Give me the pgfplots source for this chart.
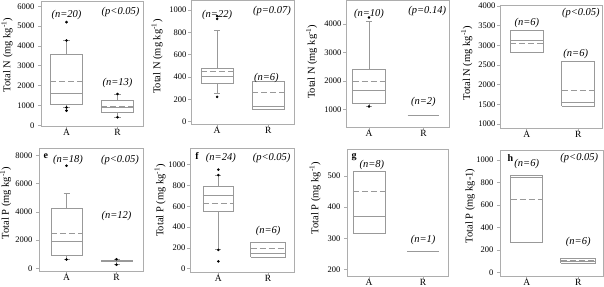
\documentclass[border=0pt]{standalone}
\usepackage{fontspec}
\setmainfont{Liberation Serif}
\usepackage{pgfplots}
\pgfplotsset{compat=1.18}
\definecolor{boxgray}{gray}{0.6}
\definecolor{framegray}{gray}{0.68}
\pgfplotsset{
  panel/.style={scale only axis, anchor=south west, clip=false,
    xtick={1,2}, xticklabels={A,R},
    axis line style={framegray, line width=0.7pt},
    tick style={framegray, line width=0.6pt},
    tick align=outside, tick pos=left, major tick length=3pt,
    yticklabel style={font=\fontsize{8.5}{10}\selectfont},
    xticklabel style={font=\fontsize{9.5}{11}\selectfont, yshift=3pt},
    /pgf/number format/assume math mode=true,
    /pgf/number format/1000 sep={},
    ylabel style={font=\fontsize{10.5}{12}\selectfont, anchor=center},
  },
  bx/.style={draw=boxgray, line width=0.7pt, solid, mark=none},
  mn/.style={draw=boxgray, line width=0.7pt, dash pattern=on 6pt off 3pt, mark=none},
  ol/.style={only marks, mark=*, mark size=1.1pt, mark options={draw=black, fill=black}},
}
\tikzset{
  ann/.style={font=\fontsize{10.5}{12}\selectfont\itshape},
  lett/.style={font=\fontsize{10}{12}\selectfont\bfseries},
}
% box: left x, right x, lower quartile, median, upper quartile
\newcommand{\bxx}[5]{%
  \addplot[bx] coordinates {(#1,#3) (#2,#3) (#2,#5) (#1,#5) (#1,#3)};
  \addplot[bx] coordinates {(#1,#4) (#2,#4)};}
% whisker: position, cap left, cap right, from, to
\newcommand{\wsk}[5]{%
  \addplot[bx] coordinates {(#1,#4) (#1,#5)};
  \addplot[bx] coordinates {(#2,#5) (#3,#5)};}
% mean: left x, right x, value
\newcommand{\mean}[3]{\addplot[mn] coordinates {(#1,#3) (#2,#3)};}
\begin{document}
\begin{tikzpicture}
\path[use as bounding box] (0pt,0pt) rectangle (604pt,-286pt);

% ---- Panel 1 ----
\begin{axis}[panel, at={(41pt,-126pt)}, width=102pt, height=125pt,
  xmin=0.5, xmax=2.5, ymin=-35, ymax=6265, ytick={0,1000,...,6000},
  yticklabel style={xshift=0pt},
  ylabel={Total N (mg kg\textsuperscript{-1})},
  ylabel style={at={(axis description cs:-0.333,0.568)}}]
\bxx{0.685}{1.315}{1060}{1613}{3580}
\wsk{1}{0.94}{1.06}{1060}{900}
\wsk{1}{0.94}{1.06}{3580}{4280}
\mean{0.685}{1.315}{2197}
\bxx{1.685}{2.315}{670}{922}{1275}
\wsk{2}{1.94}{2.06}{670}{403}
\wsk{2}{1.94}{2.06}{1275}{1577}
\mean{1.685}{2.315}{973}
\addplot[ol] coordinates {(1,900) (1,740) (1,4280) (1,5200) (2,403) (2,1577)};
\node[ann] at (axis cs:1.0,5560) {(n=20)};
\node[ann] at (axis cs:2.06,5725) {(p<0.05)};
\node[ann] at (axis cs:2.0,2117) {(n=13)};
\end{axis}

% ---- Panel 2 ----
\begin{axis}[panel, at={(191pt,-124pt)}, width=103pt, height=124pt,
  xmin=0.49, xmax=2.5, ymin=-21, ymax=1090, ytick={0,200,...,1000},
  yticklabel style={xshift=2pt},
  ylabel={Total N (mg kg\textsuperscript{-1})},
  ylabel style={at={(axis description cs:-0.330,0.543)}}]
\bxx{0.685}{1.315}{344}{409}{478}
\wsk{1}{0.94}{1.06}{344}{250}
\wsk{1}{0.94}{1.06}{478}{815}
\mean{0.685}{1.315}{448}
\bxx{1.685}{2.315}{114}{134}{364}
\mean{1.685}{2.315}{263}
\addplot[ol] coordinates {(1,222) (1,920) (1,945)};
\node[ann] at (axis cs:1.0,955) {(n=22)};
\node[ann] at (axis cs:2.07,991) {(p=0.07)};
\node[ann] at (axis cs:1.96,395) {(n=6)};
\end{axis}

% ---- Panel 3 ----
\begin{axis}[panel, at={(346pt,-127pt)}, width=103pt, height=127pt,
  xmin=0.576, xmax=2.47, ymin=377, ymax=4847, ytick={1000,2000,3000,4000},
  yticklabel style={xshift=2pt},
  ylabel={Total N (mg kg\textsuperscript{-1})},
  ylabel style={at={(axis description cs:-0.333,0.514)}}]
\bxx{0.70}{1.30}{1197}{1655}{2408}
\wsk{1}{0.94}{1.06}{1197}{1120}
\wsk{1}{0.94}{1.06}{2408}{4100}
\mean{0.70}{1.30}{1972}
\addplot[bx] coordinates {(1.71,775) (2.29,775)};
\addplot[ol] coordinates {(1,1100) (1,4230)};
\node[ann] at (axis cs:1.0,4356) {(n=10)};
\node[ann] at (axis cs:2.07,4461) {(p=0.14)};
\node[ann] at (axis cs:2.0,1268) {(n=2)};
\end{axis}

% ---- Panel 4 ----
\begin{axis}[panel, at={(500pt,-128pt)}, width=102pt, height=123pt,
  xmin=0.48, xmax=2.46, ymin=898, ymax=4023, ytick={1000,1500,...,4000},
  yticklabel style={xshift=2pt},
  ylabel={Total N (mg kg\textsuperscript{-1})},
  ylabel style={at={(axis description cs:-0.326,0.528)}}]
\bxx{0.68}{1.32}{2810}{3114}{3368}
\mean{0.68}{1.32}{3048}
\bxx{1.68}{2.32}{1457}{1558}{2581}
\mean{1.68}{2.32}{1863}
\node[ann] at (axis cs:1.0,3565) {(n=6)};
\node[ann] at (axis cs:2.05,3810) {(p<0.05)};
\node[ann] at (axis cs:1.95,2769) {(n=6)};
\end{axis}

% ---- Panel 5 ----
\begin{axis}[panel, at={(39pt,-271pt)}, width=104pt, height=123pt,
  xmin=0.45, xmax=2.53, ymin=-191, ymax=8529, ytick={0,2000,...,8000},
  ylabel={Total P (mg kg\textsuperscript{-1})},
  ylabel style={at={(axis description cs:-0.32,0.553)}}]
\bxx{0.69}{1.31}{894}{1887}{4227}
\wsk{1}{0.94}{1.06}{894}{640}
\wsk{1}{0.94}{1.06}{4227}{5291}
\mean{0.69}{1.31}{2482}
\bxx{1.69}{2.31}{460}{515}{575}
\wsk{2}{1.94}{2.06}{460}{300}
\wsk{2}{1.94}{2.06}{575}{640}
\addplot[ol] coordinates {(1,620) (1,7277) (2,250) (2,650)};
\node[lett] at (rel axis cs:0.067,0.935) {e};
\node[ann] at (axis cs:1.03,7660) {(n=18)};
\node[ann] at (axis cs:2.07,7660) {(p<0.05)};
\node[ann] at (axis cs:2.0,3688) {(n=12)};
\end{axis}

% ---- Panel 6 ----
\begin{axis}[panel, at={(190pt,-272pt)}, width=104pt, height=124pt,
  xmin=0.43, xmax=2.52, ymin=-32, ymax=1160, ytick={0,200,...,1000},
  yticklabel style={xshift=2pt},
  ylabel={Total P (mg kg\textsuperscript{-1})},
  ylabel style={at={(axis description cs:-0.288,0.577)}}]
\bxx{0.69}{1.31}{552}{706}{792}
\wsk{1}{0.94}{1.06}{552}{183}
\wsk{1}{0.94}{1.06}{792}{898}
\mean{0.69}{1.31}{629}
\bxx{1.65}{2.35}{110}{151}{254}
\mean{1.65}{2.35}{192}
\addplot[ol] coordinates {(1,180) (1,71) (1,900) (1,952)};
\node[lett] at (rel axis cs:0.067,0.935) {f};
\node[ann] at (axis cs:1.05,1064) {(n=24)};
\node[ann] at (axis cs:2.07,1064) {(p<0.05)};
\node[ann] at (axis cs:2.0,360) {(n=6)};
\end{axis}

% ---- Panel 7 ----
\begin{axis}[panel, at={(347pt,-276pt)}, width=101pt, height=127pt,
  xmin=0.59, xmax=2.46, ymin=180, ymax=586, ytick={200,300,400,500},
  ylabel={Total P (mg kg\textsuperscript{-1})},
  ylabel style={at={(axis description cs:-0.317,0.614)}}]
\bxx{0.70}{1.30}{317}{371}{513}
\mean{0.70}{1.30}{450}
\addplot[bx] coordinates {(1.71,259) (2.29,259)};
\node[lett] at (rel axis cs:0.07,0.935) {g};
\node[ann] at (axis cs:1.05,535) {(n=8)};
\node[ann] at (axis cs:2.0,296) {(n=1)};
\end{axis}

% ---- Panel 8 ----
\begin{axis}[panel, at={(500pt,-276pt)}, width=103pt, height=126pt,
  xmin=0.48, xmax=2.48, ymin=-29, ymax=1089, ytick={0,200,...,1000},
  ylabel={Total P (mg kg-1)},
  ylabel style={at={(axis description cs:-0.291,0.555)}}]
\bxx{0.69}{1.31}{268}{845}{868}
\mean{0.69}{1.31}{655}
\bxx{1.66}{2.34}{85}{97}{128}
\mean{1.66}{2.34}{112}
\node[lett] at (rel axis cs:0.1,0.935) {h};
\node[ann] at (axis cs:1.0,969) {(n=6)};
\node[ann] at (axis cs:2.02,1019) {(p<0.05)};
\node[ann] at (axis cs:2.0,277) {(n=6)};
\end{axis}
\end{tikzpicture}
\end{document}
